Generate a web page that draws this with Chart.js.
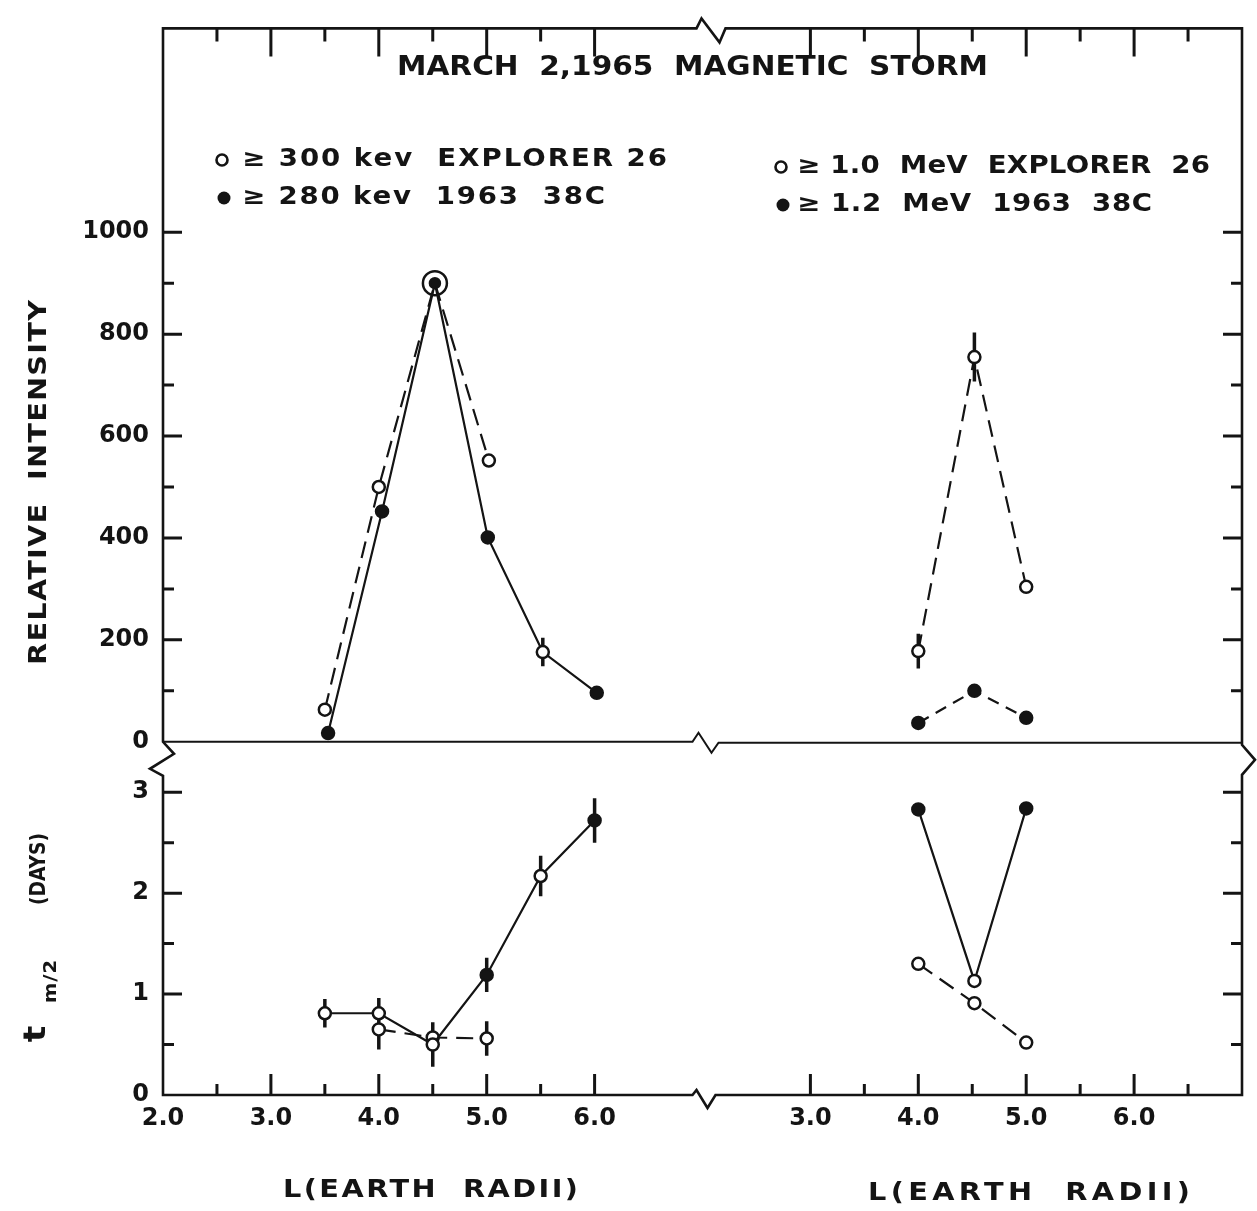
<!DOCTYPE html>
<html>
<head>
<meta charset="utf-8">
<script src="https://cdn.jsdelivr.net/npm/chart.js@4.4.1/dist/chart.umd.min.js"></script>
<style>
  html, body { margin: 0; padding: 0; background: #fff; }
  canvas { display: block; }
</style>
</head>
<body>
<canvas id="storm" width="1257" height="1211"></canvas>
<script>
// left half: >= 300 kev Explorer 26 (open) and >= 280 kev 1963 38C (filled)
const expLowL = [3.5, 4.0, 4.52, 5.02];
const expLowInt = [63, 500, 900, 552];
const satLowL = [3.53, 4.03, 4.52, 5.01, 5.52, 6.02];
const satLowInt = [17, 452, 900, 401, 176, 96];
const satLowIntErr = [0, 0, 0, 0, 28, 0];

// right half: >= 1.0 MeV Explorer 26 and >= 1.2 MeV 1963 38C
const highL = [4.0, 4.52, 5.0];
const expHighInt = [178, 755, 304];
const expHighIntErr = [34, 48, 0];
const satHighInt = [37, 100, 47];

// decay times t m/2 (days)
const lifeLowL = [3.5, 4.0, 4.5, 5.0, 5.5, 6.0];
const lifeLow = [0.81, 0.81, 0.50, 1.19, 2.17, 2.72];
const lifeLowErr = [0.14, 0.15, 0.22, 0.17, 0.20, 0.22];
const lifeLowDashL = [4.0, 4.5, 5.0];
const lifeLowDash = [0.65, 0.57, 0.56];
const lifeLowDashErr = [0.20, 0, 0.17];
const satHighLife = [2.83, 1.13, 2.84];
const expHighLife = [1.30, 0.91, 0.52];

// axis labels
const intensityTicks = [0, 200, 400, 600, 800, 1000];
const dayTicks = [0, 1, 2, 3];
const lLeftTicks = [2, 3, 4, 5, 6];
const lRightTicks = [3, 4, 5, 6];

const INK = '#141414';
const WHITE = '#ffffff';
const FONT = '"DejaVu Sans"';

const pts = (xs, ys) => xs.map((x, i) => ({ x, y: ys[i] }));

const lineSet = (data, xAxisID, yAxisID, extra) => Object.assign({
  data, xAxisID, yAxisID,
  showLine: true, tension: 0,
  borderColor: INK, borderWidth: 2.2,
  pointStyle: 'circle', pointRadius: 6,
  pointBorderColor: INK, pointBorderWidth: 2.5,
  pointBackgroundColor: INK
}, extra);

const DASH = [17, 9];

const datasets = [
  lineSet(pts(satLowL, satLowInt), 'xL', 'yT', {
    pointBackgroundColor: [INK, INK, INK, INK, WHITE, INK],
    pointRadius: [6, 6, 5, 6, 6, 6],
    errors: satLowIntErr
  }),
  lineSet(pts(expLowL, expLowInt), 'xL', 'yT', {
    borderDash: DASH,
    pointBackgroundColor: [WHITE, WHITE, 'rgba(0,0,0,0)', WHITE],
    pointRadius: [6, 6, 12, 6]
  }),
  lineSet(pts(highL, expHighInt), 'xR', 'yT', {
    borderDash: DASH, pointBackgroundColor: WHITE, errors: expHighIntErr
  }),
  lineSet(pts(highL, satHighInt), 'xR', 'yT', { borderDash: [12, 8] }),
  lineSet(pts(lifeLowL, lifeLow), 'xL', 'yB', {
    pointBackgroundColor: [WHITE, WHITE, WHITE, INK, WHITE, INK],
    errors: lifeLowErr
  }),
  lineSet(pts(lifeLowDashL, lifeLowDash), 'xL', 'yB', {
    borderDash: DASH, pointBackgroundColor: WHITE, errors: lifeLowDashErr
  }),
  lineSet(pts(highL, satHighLife), 'xR', 'yB', {
    pointBackgroundColor: [INK, WHITE, INK]
  }),
  lineSet(pts(highL, expHighLife), 'xR', 'yB', {
    borderDash: DASH, pointBackgroundColor: WHITE
  })
];

const tickFont = { family: 'DejaVu Sans', size: 24, weight: 'bold' };

const xScale = (weight, ticks) => ({
  type: 'linear', position: 'bottom', stack: 'L', stackWeight: 1, weight,
  min: 2, max: 7,
  grid: { display: false, drawTicks: false },
  border: { display: false },
  afterBuildTicks: s => { s.ticks = ticks.map(v => ({ value: v })); },
  afterFit: s => { s.height = 116; },
  ticks: {
    color: INK, font: tickFont, padding: 9, maxRotation: 0, autoSkip: false,
    callback: v => Number(v).toFixed(1)
  }
});

const yScale = (weight, stackWeight, max, ticks) => ({
  type: 'linear', position: 'left', stack: 'V', stackWeight, weight,
  min: 0, max,
  grid: { display: false, drawTicks: false },
  border: { display: false },
  afterBuildTicks: s => { s.ticks = ticks.map(v => ({ value: v })); },
  afterFit: s => { s.width = 163; },
  ticks: { color: INK, font: tickFont, padding: 14, autoSkip: false, callback: v => String(v) }
});

// fit a line of lettering between x0 and x1: widen the glyphs a little, then space them
function spread(ctx, text, x0, x1, y) {
  ctx.letterSpacing = '0px';
  const w = ctx.measureText(text).width;
  const target = x1 - x0;
  const sx = Math.min(Math.max(target / w, 0.85), 1.15);
  const n = text.length;
  const ls = n > 1 ? (target / sx - w) / (n - 1) : 0;
  ctx.save();
  ctx.translate(n > 1 ? x0 : (x0 + x1 - w * sx) / 2, y);
  ctx.scale(sx, 1);
  ctx.letterSpacing = ls + 'px';
  ctx.textAlign = 'left';
  ctx.fillText(text, 0, 0);
  ctx.restore();
}

function legendRow(ctx, mx, y, filled, text, x0, x1) {
  ctx.beginPath();
  ctx.arc(mx, y, filled ? 6.5 : 5.5, 0, Math.PI * 2);
  if (filled) { ctx.fill(); } else { ctx.lineWidth = 2.6; ctx.stroke(); }
  spread(ctx, text, x0, x1, y);
}

const framePlugin = {
  id: 'frame',
  beforeDraw(chart) {
    const { ctx, width, height } = chart;
    ctx.save();
    ctx.fillStyle = WHITE;
    ctx.fillRect(0, 0, width, height);
    ctx.restore();
  },
  beforeDatasetsDraw(chart) {
    const { ctx } = chart;
    const { left, right, top, bottom } = chart.chartArea;
    const { xL, xR, yT, yB } = chart.scales;
    const bx = xL.right;
    const y0 = yT.bottom;
    ctx.save();
    ctx.strokeStyle = INK;
    ctx.lineJoin = 'miter';
    ctx.lineCap = 'butt';

    // outer box with the scale breaks
    ctx.lineWidth = 2.6;
    ctx.beginPath();
    ctx.moveTo(left, top);
    ctx.lineTo(bx - 6, top);
    ctx.lineTo(bx - 1, top - 10);
    ctx.lineTo(bx + 17, top + 14);
    ctx.lineTo(bx + 23, top);
    ctx.lineTo(right, top);
    ctx.lineTo(right, y0 + 3);
    ctx.lineTo(right + 13, y0 + 18);
    ctx.lineTo(right, y0 + 33);
    ctx.lineTo(right, bottom);
    ctx.lineTo(bx + 13, bottom);
    ctx.lineTo(bx + 5, bottom + 13);
    ctx.lineTo(bx - 6, bottom - 5);
    ctx.lineTo(bx - 10, bottom);
    ctx.lineTo(left, bottom);
    ctx.lineTo(left, y0 + 34);
    ctx.lineTo(left - 13, y0 + 27);
    ctx.lineTo(left + 11, y0 + 12);
    ctx.lineTo(left, y0);
    ctx.closePath();
    ctx.stroke();

    // zero line of the intensity panel
    ctx.lineWidth = 2;
    ctx.beginPath();
    ctx.moveTo(left, y0);
    ctx.lineTo(bx - 10, y0);
    ctx.lineTo(bx - 4, y0 - 9);
    ctx.lineTo(bx + 9, y0 + 11);
    ctx.lineTo(bx + 16, y0 + 1);
    ctx.lineTo(right, y0 + 1);
    ctx.stroke();

    // tick marks
    ctx.lineWidth = 3;
    ctx.beginPath();
    for (let v = 100; v <= 1000; v += 100) {
      const y = yT.getPixelForValue(v);
      const len = v % 200 === 0 ? 19 : 11;
      ctx.moveTo(left, y); ctx.lineTo(left + len, y);
      ctx.moveTo(right, y); ctx.lineTo(right - len, y);
    }
    for (let v = 0.5; v <= 3; v += 0.5) {
      const y = yB.getPixelForValue(v);
      const len = Number.isInteger(v) ? 19 : 11;
      ctx.moveTo(left, y); ctx.lineTo(left + len, y);
      ctx.moveTo(right, y); ctx.lineTo(right - len, y);
    }
    [[xL, 2.5, 6.0], [xR, 3.0, 6.5]].forEach(([s, a, b]) => {
      for (let v = a; v <= b + 1e-6; v += 0.5) {
        const x = s.getPixelForValue(v);
        const major = Number.isInteger(v);
        ctx.moveTo(x, top); ctx.lineTo(x, top + (major ? 28 : 13));
        ctx.moveTo(x, bottom); ctx.lineTo(x, bottom - (major ? 21 : 11));
      }
    });
    ctx.stroke();

    // error bars
    ctx.lineWidth = 3.5;
    ctx.beginPath();
    chart.data.datasets.forEach(ds => {
      if (!ds.errors) return;
      const sx = chart.scales[ds.xAxisID];
      const sy = chart.scales[ds.yAxisID];
      ds.data.forEach((p, j) => {
        const e = ds.errors[j];
        if (!e) return;
        const x = sx.getPixelForValue(p.x);
        ctx.moveTo(x, sy.getPixelForValue(p.y + e));
        ctx.lineTo(x, sy.getPixelForValue(p.y - e));
      });
    });
    ctx.stroke();
    ctx.restore();
  },
  afterDraw(chart) {
    const { ctx } = chart;
    ctx.save();
    ctx.fillStyle = INK;
    ctx.strokeStyle = INK;
    ctx.textBaseline = 'middle';

    ctx.font = `bold 26px ${FONT}`;
    spread(ctx, 'MARCH  2,1965  MAGNETIC  STORM', 397, 988, 68);

    ctx.font = `bold 24px ${FONT}`;
    legendRow(ctx, 222, 160, false, '≥ 300 kev  EXPLORER 26', 242, 667);
    legendRow(ctx, 224, 198, true, '≥ 280 kev  1963  38C', 242, 605);
    legendRow(ctx, 781, 167, false, '≥ 1.0  MeV  EXPLORER  26', 797, 1210);
    legendRow(ctx, 783, 205, true, '≥ 1.2  MeV  1963  38C', 797, 1152);

    ctx.font = `bold 25px ${FONT}`;
    spread(ctx, 'L(EARTH  RADII)', 283, 578, 1190);
    spread(ctx, 'L(EARTH  RADII)', 868, 1190, 1193);

    // vertical axis titles
    ctx.textBaseline = 'alphabetic';
    ctx.save();
    ctx.translate(46, 665);
    ctx.rotate(-Math.PI / 2);
    ctx.font = `bold 25px ${FONT}`;
    spread(ctx, 'RELATIVE  INTENSITY', 0, 365, 0);
    ctx.restore();

    ctx.save();
    ctx.translate(45, 1046);
    ctx.rotate(-Math.PI / 2);
    ctx.font = `bold 30px ${FONT}`;
    spread(ctx, 't', 0, 24, 0);
    ctx.font = `bold 17px ${FONT}`;
    spread(ctx, 'm/2', 43, 86, 11);
    ctx.font = `bold 22px ${FONT}`;
    spread(ctx, '(DAYS)', 141, 213, 0);
    ctx.restore();

    ctx.restore();
  }
};

new Chart(document.getElementById('storm'), {
  type: 'scatter',
  data: { datasets },
  options: {
    responsive: false,
    animation: false,
    devicePixelRatio: 1,
    layout: { padding: { left: 0, right: 15, top: 17, bottom: 0 } },
    plugins: { legend: { display: false }, tooltip: { enabled: false } },
    scales: {
      xL: xScale(0, lLeftTicks),
      xR: xScale(1, lRightTicks),
      yT: yScale(1, 721, 1400, intensityTicks),
      yB: yScale(0, 357, 3.5, dayTicks)
    }
  },
  plugins: [framePlugin]
});
</script>
</body>
</html>
